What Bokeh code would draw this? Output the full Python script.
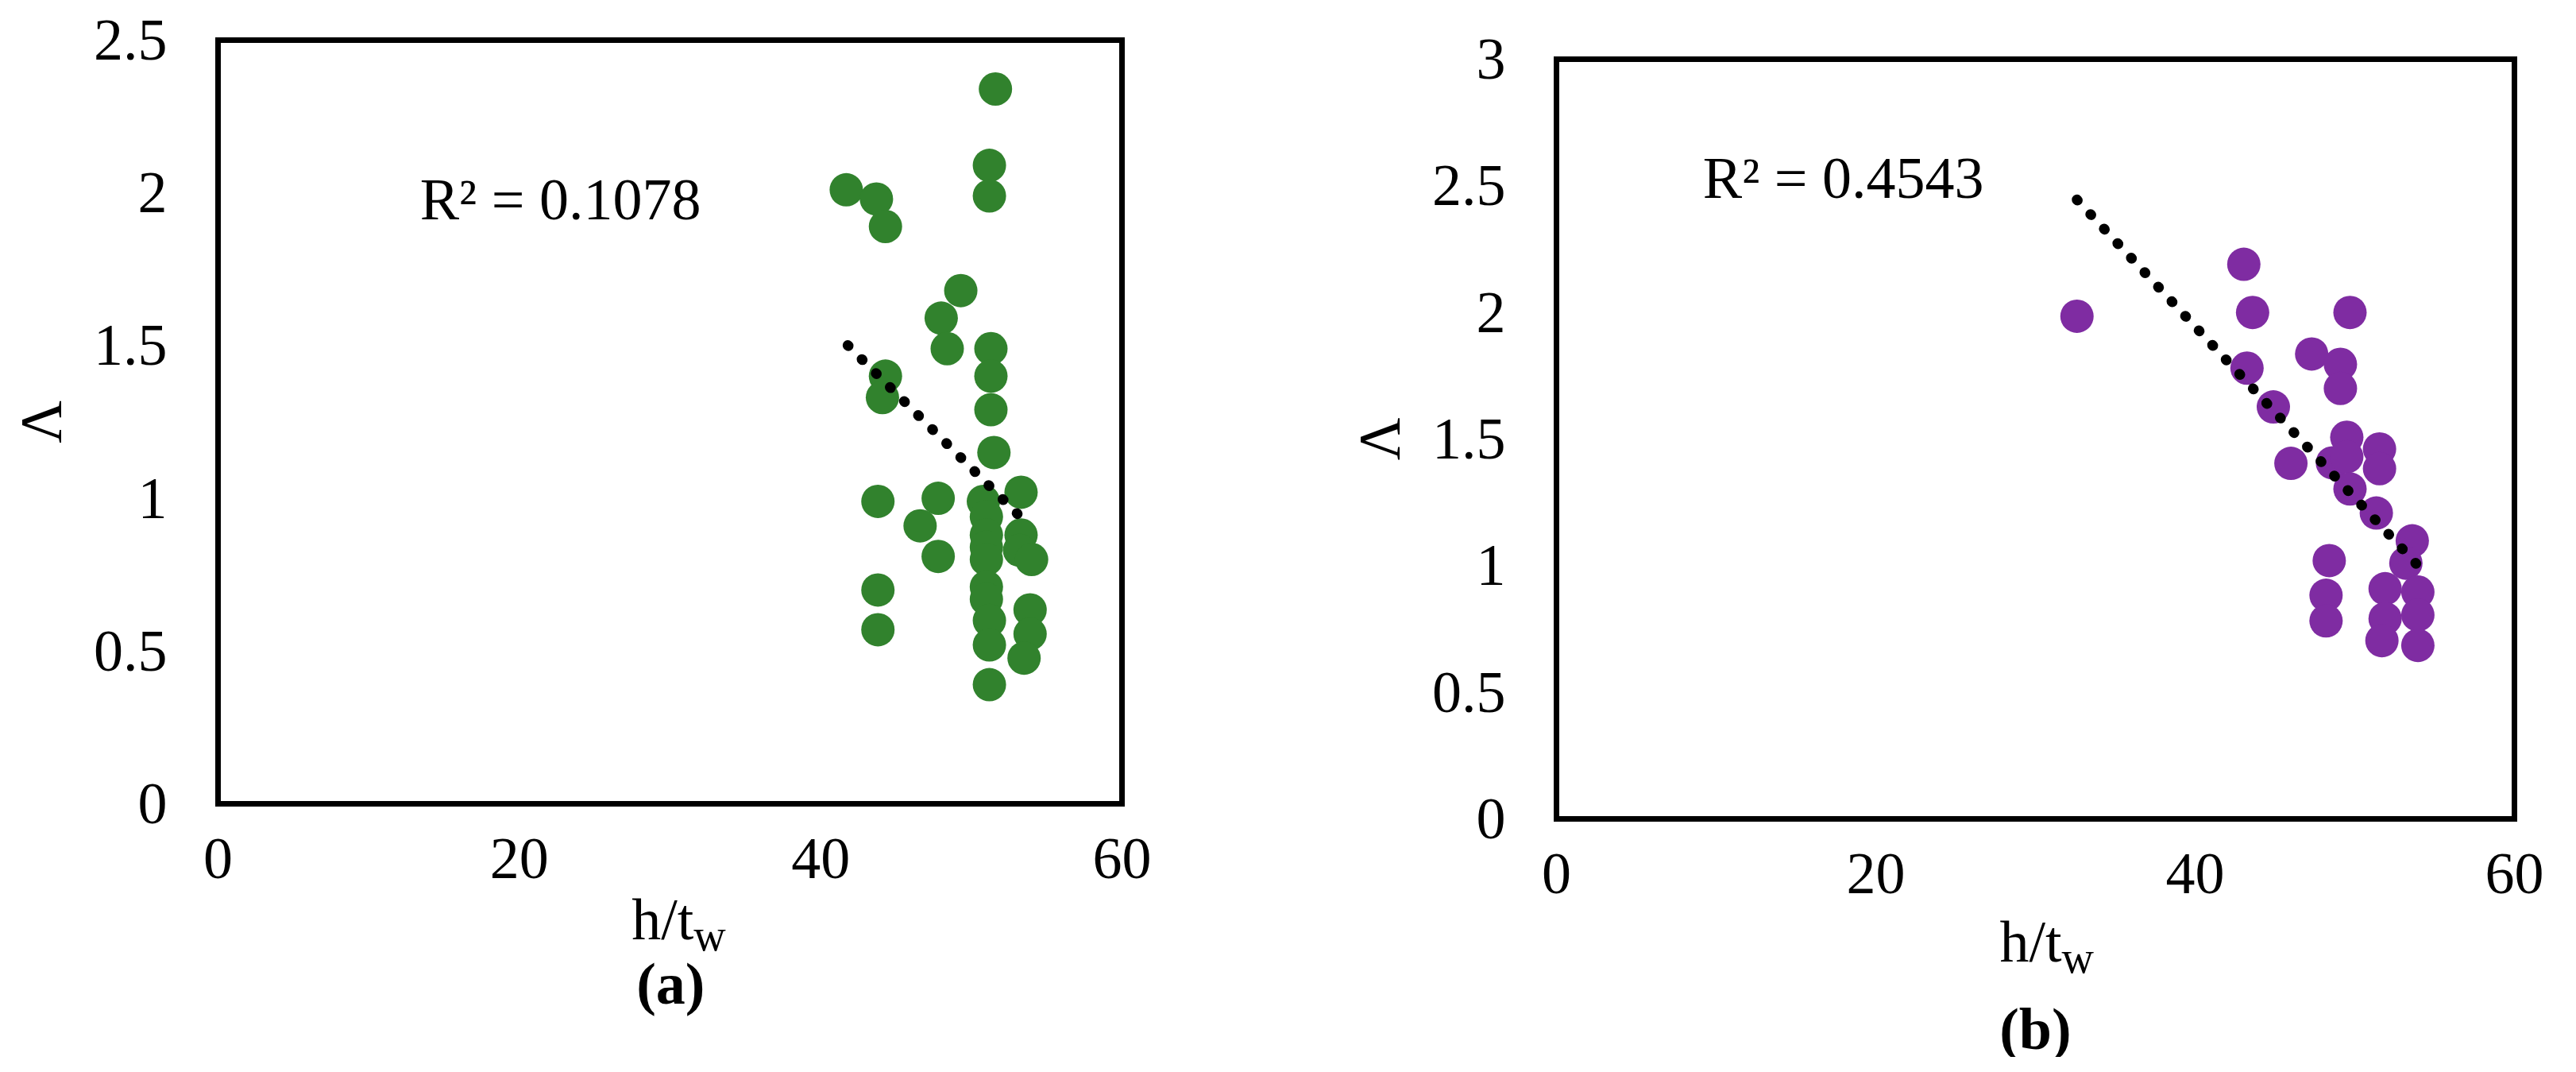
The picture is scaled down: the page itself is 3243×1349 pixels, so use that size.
import numpy as np
from bokeh.plotting import figure
from bokeh.layouts import row, column
from bokeh.models import Range1d, FixedTicker, Label, ColumnDataSource
from bokeh.embed import file_html
from bokeh.resources import INLINE

# ---------------- data ----------------
# panel (a)
a_x = [41.7, 43.7, 44.3, 51.6, 51.2, 51.2, 49.3, 48.0, 48.4, 51.3, 51.3, 51.3,
       51.5, 44.3, 44.1, 43.8, 47.8, 46.6, 47.8, 53.3, 53.3, 53.2, 54.0, 43.8,
       43.8, 53.9, 53.9, 53.5, 51.2, 50.8, 51.0, 51.0, 51.0, 51.0, 51.0, 51.0,
       51.2, 51.2]
a_y = [2.01, 1.98, 1.89, 2.34, 2.09, 1.99, 1.68, 1.59, 1.49, 1.49, 1.40, 1.29,
       1.15, 1.40, 1.33, 0.99, 1.00, 0.91, 0.81, 1.02, 0.88, 0.83, 0.80, 0.70,
       0.57, 0.635, 0.556, 0.477, 0.39, 0.99, 0.94, 0.88, 0.84, 0.80, 0.71, 0.67,
       0.60, 0.52]
a_trend_x = [41.8, 53.9]
a_trend_y = [1.501, 0.908]
a_r2 = "R\u00b2 = 0.1078"

# panel (b)
b_x = [32.6, 43.05, 43.6, 49.7, 47.3, 49.1, 49.1, 43.25, 44.9, 46.0, 48.6, 49.5,
       49.5, 51.55, 51.55, 49.7, 51.35, 53.6, 53.2, 48.4, 48.2, 48.2, 51.9, 51.9,
       51.7, 53.95, 53.95, 53.95]
b_y = [1.985, 2.19, 2.00, 2.00, 1.836, 1.795, 1.70, 1.78, 1.627, 1.404, 1.406, 1.507,
       1.43, 1.461, 1.383, 1.303, 1.208, 1.098, 1.01, 1.02, 0.883, 0.782, 0.909, 0.791,
       0.704, 0.896, 0.805, 0.685]
b_trend_x = [32.6, 53.9]
b_trend_y = [2.445, 1.004]
b_r2 = "R\u00b2 = 0.4543"

x_ticks = [0, 20, 40, 60]
a_y_ticks = [0, 0.5, 1, 1.5, 2, 2.5]
b_y_ticks = [0, 0.5, 1, 1.5, 2, 2.5, 3]

x_label_main = "h/t"
x_label_sub = "w"

FONT = "Liberation Serif"
GREEN = "#31822D"
PURPLE = "#7F2CA2"


def fmt(v):
    return "%g" % v


def make_panel(xs, ys, tx, ty, r2, color, ymax, yticks,
               bl, fw, br, bt, fh, bb, r2_pos, ylab_standoff):
    p = figure(frame_width=fw, frame_height=fh,
               min_border_left=bl, min_border_right=br, min_border_top=bt,
               min_border_bottom=bb,
               x_range=Range1d(0, 60), y_range=Range1d(0, ymax),
               toolbar_location=None, output_backend="svg")
    p.grid.visible = False
    p.background_fill_color = "white"
    p.border_fill_color = "white"
    p.outline_line_color = "black"
    p.outline_line_width = 7
    p.outline_line_join = "miter"

    for ax in (p.xaxis[0], p.yaxis[0]):
        ax.axis_line_color = None
        ax.major_tick_line_color = None
        ax.minor_tick_line_color = None
        ax.major_tick_out = 0
        ax.major_tick_in = 0
        ax.minor_tick_out = 0
        ax.minor_tick_in = 0
        ax.major_label_text_font = FONT
        ax.major_label_text_font_size = "74px"
        ax.major_label_text_color = "black"
    p.xaxis[0].ticker = FixedTicker(ticks=x_ticks)
    p.xaxis[0].major_label_overrides = {t: fmt(t) for t in x_ticks}
    p.xaxis[0].major_label_standoff = 44
    p.yaxis[0].ticker = FixedTicker(ticks=yticks)
    p.yaxis[0].major_label_overrides = {t: fmt(t) for t in yticks}
    p.yaxis[0].major_label_standoff = 64
    p.yaxis[0].axis_label = "\u039b"
    p.yaxis[0].axis_label_text_font = FONT
    p.yaxis[0].axis_label_text_font_size = "74px"
    p.yaxis[0].axis_label_text_font_style = "normal"
    p.yaxis[0].axis_label_text_color = "black"
    p.yaxis[0].axis_label_standoff = ylab_standoff

    src = ColumnDataSource(dict(x=xs, y=ys))
    p.scatter("x", "y", source=src, size=42, fill_color=color, line_color=None)
    p.line(tx, ty, line_color="black", line_width=13, line_dash="1 24",
           line_cap="round")

    p.add_layout(Label(x=r2_pos[0], y=r2_pos[1], text=r2, text_font=FONT,
                       text_font_size="74px", text_color="black",
                       text_baseline="alphabetic", text_align="left"))
    return p


def make_caption(width, height, overlap, letter, split_x, base_main, base_sub,
                 letter_x, letter_base):
    """Transparent strip under a panel holding the x-axis title and (a)/(b).
    Coordinates are pixels from the strip's top-left corner."""
    c = figure(width=width, height=height, x_range=Range1d(0, width),
               y_range=Range1d(height, 0), min_border=0,
               x_axis_location=None, y_axis_location=None,
               toolbar_location=None, output_backend="svg",
               margin=(-overlap, 0, 0, 0))
    c.grid.visible = False
    c.outline_line_color = None
    c.background_fill_color = None
    c.border_fill_color = None
    c.add_layout(Label(x=split_x, y=base_main, text=x_label_main, text_font=FONT,
                       text_font_size="74px", text_color="black",
                       text_align="right", text_baseline="alphabetic"))
    c.add_layout(Label(x=split_x, y=base_sub, text=x_label_sub, text_font=FONT,
                       text_font_size="56px", text_color="black",
                       text_align="left", text_baseline="alphabetic"))
    c.add_layout(Label(x=letter_x, y=letter_base, text="(" + letter + ")",
                       text_font=FONT, text_font_size="74px", text_color="black",
                       text_font_style="bold", text_align="left",
                       text_baseline="alphabetic"))
    return c


# left panel
p1 = make_panel(a_x, a_y, a_trend_x, a_trend_y, a_r2, GREEN, 2.5, a_y_ticks,
                bl=274, fw=1138, br=230, bt=50, fh=961, bb=150,
                r2_pos=(13.4, 1.978), ylab_standoff=22)
c1 = make_caption(1642, 220, 90, "a",
                  split_x=864, base_main=85, base_sub=105,
                  letter_x=760, letter_base=166)

# right panel
p2 = make_panel(b_x, b_y, b_trend_x, b_trend_y, b_r2, PURPLE, 3, b_y_ticks,
                bl=317, fw=1206, br=62, bt=74, fh=956, bb=150,
                r2_pos=(9.17, 2.53), ylab_standoff=22)
c2 = make_caption(1585, 250, 100, "b",
                  split_x=836, base_main=104, base_sub=124,
                  letter_x=733, letter_base=214)

layout = row(column(p1, c1), column(p2, c2))
open("out.html", "w").write(file_html(layout, INLINE))
